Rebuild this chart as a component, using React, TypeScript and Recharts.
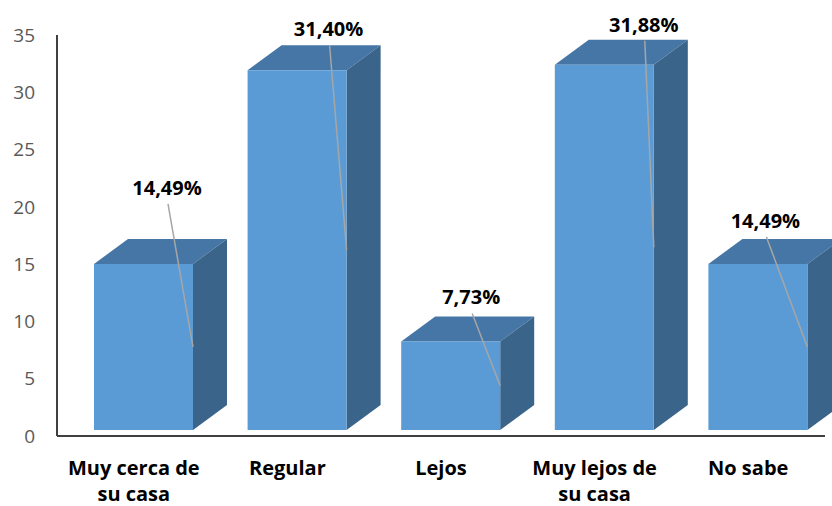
import React from "react";
import { BarChart, Bar, XAxis, YAxis, LabelList } from "recharts";

const categories = ["Muy cerca de su casa", "Regular", "Lejos", "Muy lejos de su casa", "No sabe"];
const values = [14.49, 31.4, 7.73, 31.88, 14.49];
const yTicks = [0, 5, 10, 15, 20, 25, 30, 35];

// hand-placed label spots, relative to the front face's top-right corner
const labelNudge = [
  [-26, -76],
  [-18, -41],
  [-29, -44],
  [-10, -40],
  [-42, -43],
];

const data = categories.map((name, i) => ({ name, value: values[i] }));

const FRONT = "#5B9BD5";
const TOP = "#4676A6";
const SIDE = "#3A6489";
const DX = 34;
const DY = -25;
const SHIFT_X = 10;
const SHIFT_Y = -6;

const Box3D = (props: any) => {
  const { x, y, width, height } = props;
  const fx = x + SHIFT_X;
  const fy = y + SHIFT_Y;
  const fr = fx + width;
  const fb = fy + height;
  return (
    <g>
      <polygon
        points={`${fx},${fy} ${fx + DX},${fy + DY} ${fr + DX},${fy + DY} ${fr},${fy}`}
        fill={TOP}
      />
      <polygon
        points={`${fr},${fy} ${fr + DX},${fy + DY} ${fr + DX},${fb + DY} ${fr},${fb}`}
        fill={SIDE}
      />
      <rect x={fx} y={fy} width={width} height={height} fill={FRONT} />
    </g>
  );
};

const PctLabel = (props: any) => {
  const { x, y, width, height, index, value } = props;
  const fr = x + SHIFT_X + width;
  const fy = y + SHIFT_Y;
  const [nx, ny] = labelNudge[index];
  const lx = fr + nx;
  const ly = fy + ny;
  const endY = fy + height / 2;
  return (
    <g>
      <line x1={lx + 1} y1={ly + 16} x2={fr} y2={endY} stroke="#A6A6A6" strokeWidth={1.5} />
      <text
        x={lx}
        y={ly + 7}
        textAnchor="middle"
        fontFamily="'Open Sans', sans-serif"
        fontWeight={700}
        fontSize={20}
        fill="#000"
      >
        {value.toFixed(2).replace(".", ",") + "%"}
      </text>
    </g>
  );
};

const wrap = (s: string, max: number) => {
  const words = s.split(" ");
  const lines: string[] = [];
  let cur = "";
  words.forEach((w) => {
    const next = cur ? cur + " " + w : w;
    if (next.length > max && cur) {
      lines.push(cur);
      cur = w;
    } else cur = next;
  });
  if (cur) lines.push(cur);
  return lines;
};

const CatTick = (props: any) => {
  const { x, y, payload } = props;
  const lines = wrap(payload.value, 13);
  return (
    <text
      x={x}
      y={y + 31}
      textAnchor="middle"
      fontFamily="'Open Sans', sans-serif"
      fontWeight={700}
      fontSize={20}
      fill="#000"
    >
      {lines.map((l, i) => (
        <tspan key={i} x={x} dy={i === 0 ? 0 : 26}>
          {l}
        </tspan>
      ))}
    </text>
  );
};

export default function App() {
  return (
    <div style={{ position: "absolute", left: 0, top: 0, background: "#fff" }}>
      <BarChart
        width={832}
        height={506}
        data={data}
        margin={{ top: 35, right: 7, bottom: 0, left: 0 }}
        barSize={99}
      >
        <XAxis
          dataKey="name"
          axisLine={{ stroke: "#404040", strokeWidth: 2 }}
          tickLine={false}
          interval={0}
          height={70}
          tick={<CatTick />}
        />
        <YAxis
          domain={[0, 35]}
          ticks={yTicks}
          width={57}
          axisLine={{ stroke: "#404040", strokeWidth: 2 }}
          tickLine={false}
          tickSize={6}
          tickMargin={16}
          tick={{ fill: "#595959", fontSize: 19, fontFamily: "'Open Sans', sans-serif" }}
        />
        <Bar dataKey="value" shape={<Box3D />} isAnimationActive={false}>
          <LabelList dataKey="value" content={<PctLabel />} />
        </Bar>
      </BarChart>
    </div>
  );
}
